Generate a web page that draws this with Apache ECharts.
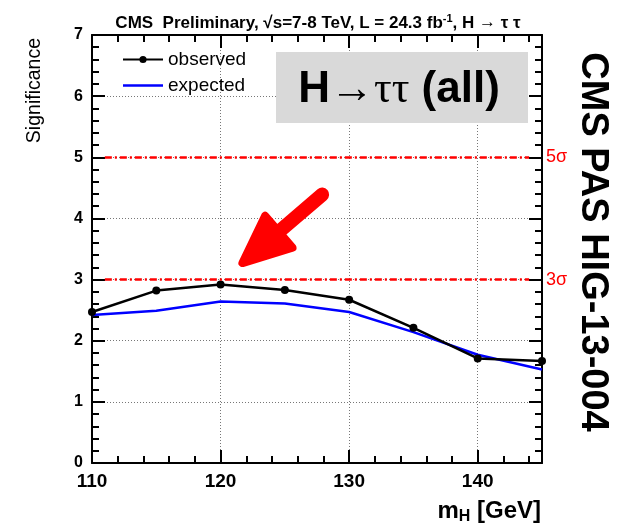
<!DOCTYPE html>
<html>
<head>
<meta charset="utf-8">
<script src="https://cdn.jsdelivr.net/npm/echarts@6/dist/echarts.min.js"></script>
<style>
  html, body { margin: 0; padding: 0; background: #fff; }
  #chart { width: 621px; height: 525px; }
</style>
</head>
<body>
<div id="chart"></div>
<script>
// Higgs mass hypotheses (GeV) and local significance values
const masses = [110, 115, 120, 125, 130, 135, 140, 145];
const observed = [2.47, 2.82, 2.92, 2.83, 2.67, 2.21, 1.71, 1.67];
const expected = [2.42, 2.49, 2.64, 2.61, 2.47, 2.14, 1.77, 1.53];
// Reference significance levels drawn as dashed lines
const sigmaLevels = [5, 3];
const sigmaLabels = ['5σ', '3σ'];
// Arrow annotation endpoints in data coordinates [mass, significance]
const arrowTail = [127.9, 4.39];
const arrowTip = [121.7, 3.27];

const FONT = 'Liberation Sans, Arial, Helvetica, sans-serif';
const SERIF = 'Liberation Serif, Times New Roman, serif';

const chart = echarts.init(document.getElementById('chart'), null, { renderer: 'canvas' });

function axisCommon() {
  return {
    axisLine: { show: true, onZero: false, lineStyle: { color: '#000', width: 2 } },
    axisTick: { show: true, inside: true, length: 13, lineStyle: { color: '#000', width: 2 } },
    minorTick: { show: true, splitNumber: 5, length: 7, lineStyle: { color: '#000', width: 2 } }
  };
}
const gridLine = { show: true, lineStyle: { color: '#777', type: [1, 2], width: 1 } };

const sigmaLines = sigmaLevels.map(v => [{ coord: [111, v] }, { coord: [144, v] }]);

const option = {
  animation: false,
  backgroundColor: '#fff',
  title: {
    text: 'CMS  Preliminary, √s=7-8 TeV, L = 24.3 fb{sup|-1}, H {ar|→} τ τ',
    left: 313, top: 8, textAlign: 'center',
    textStyle: {
      fontFamily: FONT, fontWeight: 'bold', fontSize: 17, color: '#000',
      rich: {
        sup: { fontFamily: FONT, fontWeight: 'bold', fontSize: 11, verticalAlign: 'top', padding: [0, 0, 9, 0] },
        ar: { fontFamily: SERIF, fontSize: 17 }
      }
    }
  },
  grid: { left: 92, right: 79, top: 35, bottom: 62, containLabel: false },
  legend: {
    orient: 'vertical', left: 117, top: 45, itemWidth: 40, itemHeight: 9, itemGap: 7,
    textStyle: { fontFamily: FONT, fontSize: 19, color: '#000', lineHeight: 19, padding: [0, 0, 0, 0] },
    data: [
      { name: 'observed' },
      { name: 'expected', icon: 'path://M0,0H40V2.5H0Z' }
    ]
  },
  xAxis: [
    Object.assign({
      type: 'value', min: 110, max: 145, interval: 10, position: 'bottom', splitLine: gridLine,
      axisLabel: { show: true, color: '#000', fontFamily: FONT, fontWeight: 'bold', fontSize: 19, margin: 9, showMaxLabel: false }
    }, axisCommon()),
    Object.assign({
      type: 'value', min: 110, max: 145, interval: 10, position: 'top', splitLine: { show: false },
      axisLabel: { show: false }
    }, axisCommon())
  ],
  yAxis: [
    Object.assign({
      type: 'value', min: 0, max: 7, interval: 1, position: 'left', splitLine: gridLine,
      axisLabel: { show: true, color: '#000', fontFamily: FONT, fontWeight: 'bold', fontSize: 16, margin: 9 }
    }, axisCommon()),
    Object.assign({
      type: 'value', min: 0, max: 7, interval: 1, position: 'right', splitLine: { show: false },
      axisLabel: { show: false }
    }, axisCommon())
  ],
  series: [
    {
      name: 'expected', type: 'line', xAxisIndex: 0, yAxisIndex: 0,
      data: masses.map((m, i) => [m, expected[i]]),
      showSymbol: false, symbol: 'none',
      lineStyle: { color: '#0000ff', width: 2.5 },
      itemStyle: { color: '#0000ff' },
      z: 3
    },
    {
      name: 'observed', type: 'line', xAxisIndex: 0, yAxisIndex: 0,
      data: masses.map((m, i) => [m, observed[i]]),
      symbol: 'circle', symbolSize: 8,
      lineStyle: { color: '#000', width: 2.5 },
      itemStyle: { color: '#000' },
      z: 4,
      markLine: {
        silent: true, symbol: 'none',
        lineStyle: { color: '#ff0000', width: 2.5, type: [7, 3, 2, 3] },
        label: { show: false },
        data: sigmaLines
      }
    }
  ]
};

chart.setOption(option);

// Overlay text and the arrow annotation
function buildGraphics() {
  const toPx = p => chart.convertToPixel({ xAxisIndex: 0, yAxisIndex: 0 }, p);
  const tail = toPx(arrowTail);
  const tip = toPx(arrowTip);
  const dx = tail[0] - tip[0], dy = tail[1] - tip[1];
  const len = Math.hypot(dx, dy);
  const ux = dx / len, uy = dy / len;       // unit vector tip -> tail
  const px = -uy, py = ux;                   // perpendicular
  const headLen = 48, headHalf = 21;
  const base = [tip[0] + ux * headLen, tip[1] + uy * headLen];
  const wingA = [base[0] + px * headHalf, base[1] + py * headHalf];
  const wingB = [base[0] - px * headHalf, base[1] - py * headHalf];
  const shaftStart = [tip[0] + ux * (headLen - 10), tip[1] + uy * (headLen - 10)];

  const sigmaText = sigmaLevels.map((v, i) => {
    const p = toPx([145, v]);
    return {
      type: 'text', x: p[0] + 4, y: p[1], z: 6,
      style: { text: sigmaLabels[i], fontFamily: FONT, fontSize: 18, fill: '#ff0000', align: 'left', verticalAlign: 'middle' }
    };
  });

  chart.setOption({
    graphic: [
      {
        type: 'rect', shape: { x: 276, y: 52, width: 252, height: 71 },
        style: { fill: '#d9d9d9' }, z: 1
      },
      {
        type: 'text', x: 399, y: 90, z: 2,
        style: {
          text: '{a|H}{b|→ττ}{a| (all)}',
          align: 'center', verticalAlign: 'middle',
          rich: {
            a: { fontFamily: FONT, fontWeight: 'bold', fontSize: 44, fill: '#000' },
            b: { fontFamily: SERIF, fontSize: 44, fill: '#000' }
          }
        }
      },
      {
        type: 'text', x: 35, y: 38, rotation: Math.PI / 2, z: 2,
        style: { text: 'Significance', fontFamily: FONT, fontSize: 19.5, fill: '#000', align: 'right', verticalAlign: 'middle' }
      },
      {
        type: 'text', x: 541, y: 511, z: 2,
        style: {
          text: '{m|m}{s|H}{m| [GeV]}',
          align: 'right', verticalAlign: 'middle',
          rich: {
            m: { fontFamily: FONT, fontWeight: 'bold', fontSize: 24, fill: '#000' },
            s: { fontFamily: FONT, fontWeight: 'bold', fontSize: 16, fill: '#000', padding: [12, 0, 0, 0] }
          }
        }
      },
      {
        type: 'text', x: 592, y: 242, rotation: -Math.PI / 2, z: 2,
        style: { text: 'CMS PAS HIG-13-004', fontFamily: FONT, fontWeight: 'bold', fontSize: 38, fill: '#000', align: 'center', verticalAlign: 'middle' }
      },
      {
        type: 'line', z: 5,
        shape: { x1: shaftStart[0], y1: shaftStart[1], x2: tail[0], y2: tail[1] },
        style: { stroke: '#ff0000', lineWidth: 14, lineCap: 'round' }
      },
      {
        type: 'polygon', z: 5,
        shape: { points: [tip, wingA, wingB] },
        style: { fill: '#ff0000', stroke: '#ff0000', lineWidth: 8, lineJoin: 'round' }
      }
    ].concat(sigmaText)
  });
}
buildGraphics();
</script>
</body>
</html>
